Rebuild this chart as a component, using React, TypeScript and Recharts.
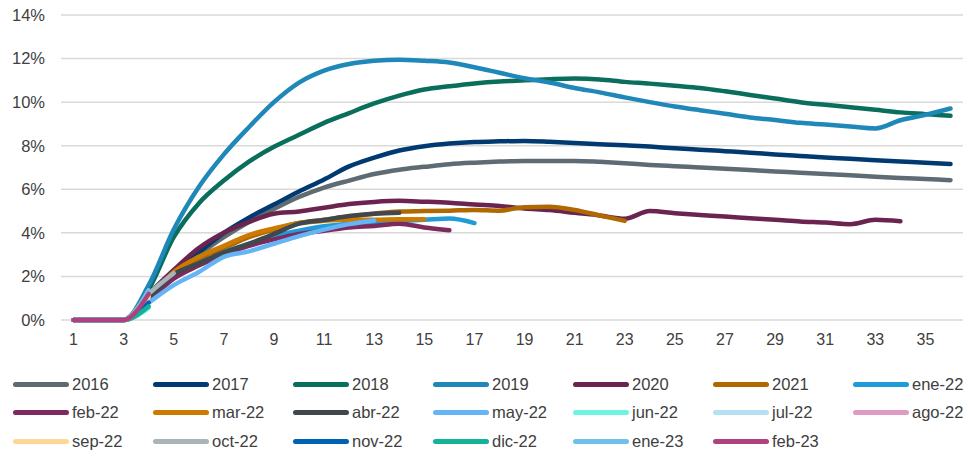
import { LineChart, Line, XAxis, YAxis, CartesianGrid } from "recharts";

const months = [
  1, 2, 3, 4, 5, 6, 7, 8, 9, 10, 11, 12, 13, 14, 15, 16, 17, 18, 19, 20, 21,
  22, 23, 24, 25, 26, 27, 28, 29, 30, 31, 32, 33, 34, 35, 36,
];
const yTicks = [0, 2, 4, 6, 8, 10, 12, 14];

const s2016 = [0, 0, 0, 1.1, 2.2, 3.0, 3.8, 4.5, 5.1, 5.65, 6.08, 6.4, 6.7, 6.9, 7.03, 7.15, 7.22, 7.27, 7.3, 7.3, 7.3, 7.26, 7.2, 7.12, 7.06, 7.0, 6.94, 6.88, 6.82, 6.76, 6.7, 6.64, 6.58, 6.52, 6.47, 6.42];
const s2017 = [0, 0, 0, 1.0, 2.2, 3.1, 4.0, 4.7, 5.3, 5.9, 6.45, 7.05, 7.45, 7.78, 7.98, 8.1, 8.17, 8.2, 8.22, 8.18, 8.12, 8.07, 8.02, 7.96, 7.88, 7.82, 7.75, 7.68, 7.6, 7.53, 7.46, 7.4, 7.33, 7.27, 7.22, 7.16];
const s2018 = [0, 0, 0, 1.4, 3.8, 5.35, 6.4, 7.27, 7.95, 8.5, 9.05, 9.5, 9.94, 10.3, 10.58, 10.73, 10.86, 10.95, 11.0, 11.05, 11.08, 11.04, 10.93, 10.85, 10.75, 10.65, 10.5, 10.33, 10.17, 10.0, 9.88, 9.77, 9.65, 9.53, 9.45, 9.37];
const s2019 = [0, 0, 0, 1.6, 4.15, 6.1, 7.6, 8.85, 10.0, 10.9, 11.45, 11.75, 11.9, 11.95, 11.9, 11.82, 11.6, 11.35, 11.1, 10.9, 10.65, 10.45, 10.22, 10.0, 9.8, 9.63, 9.47, 9.3, 9.18, 9.05, 8.97, 8.88, 8.79, 9.17, 9.42, 9.71];
const s2020 = [0, 0, 0, 1.2, 2.3, 3.3, 4.0, 4.5, 4.88, 4.98, 5.15, 5.32, 5.42, 5.47, 5.43, 5.38, 5.3, 5.23, 5.12, 5.05, 4.92, 4.8, 4.65, 5.0, 4.9, 4.82, 4.75, 4.67, 4.6, 4.52, 4.47, 4.4, 4.6, 4.53];
const s2021 = [0, 0, 0, 1.0, 2.0, 2.8, 3.3, 3.8, 4.15, 4.45, 4.6, 4.75, 4.88, 4.98, 5.0, 5.02, 5.05, 5.02, 5.18, 5.2, 5.05, 4.8, 4.55];
const ene22 = [0, 0, 0, 1.2, 2.1, 2.6, 3.1, 3.5, 3.85, 4.1, 4.3, 4.42, 4.5, 4.55, 4.6, 4.66, 4.45];
const feb22 = [0, 0, 0, 0.9, 1.9, 2.5, 3.0, 3.4, 3.7, 3.95, 4.1, 4.25, 4.32, 4.42, 4.25, 4.12];
const mar22 = [0, 0, 0, 1.0, 2.2, 2.9, 3.4, 3.9, 4.2, 4.45, 4.55, 4.6, 4.6, 4.62, 4.62];
const abr22 = [0, 0, 0, 1.0, 2.1, 2.6, 3.1, 3.5, 3.95, 4.42, 4.59, 4.77, 4.88, 4.92];
const may22 = [0, 0, 0, 0.8, 1.6, 2.2, 2.9, 3.15, 3.5, 3.85, 4.15, 4.4, 4.57];
const jun22 = [0, 0, 0, 0.55];
const jul22 = [0, 0, 0, 1.35];
const ago22 = [0, 0, 0, 1.15];
const sep22 = [0, 0, 0, 1.05];
const oct22 = [0, 0, 0, 1.2, 2.15];
const nov22 = [0, 0, 0, 0.8];
const dic22 = [0, 0, 0, 0.62];
const ene23 = [0, 0, 0, 1.35];
const feb23 = [0, 0, 0, 1.2];

const SERIES = [
  { key: "s2016", name: "2016", color: "#5f6b73", values: s2016 },
  { key: "s2017", name: "2017", color: "#003a70", values: s2017 },
  { key: "s2018", name: "2018", color: "#0a6e5c", values: s2018 },
  { key: "s2019", name: "2019", color: "#1f88b9", values: s2019 },
  { key: "s2020", name: "2020", color: "#6b2350", values: s2020 },
  { key: "s2021", name: "2021", color: "#b06800", values: s2021 },
  { key: "ene22", name: "ene-22", color: "#1f9bd7", values: ene22 },
  { key: "feb22", name: "feb-22", color: "#7d2a5e", values: feb22 },
  { key: "mar22", name: "mar-22", color: "#cc7a00", values: mar22 },
  { key: "abr22", name: "abr-22", color: "#40484e", values: abr22 },
  { key: "may22", name: "may-22", color: "#65b4f5", values: may22 },
  { key: "jun22", name: "jun-22", color: "#6ef5e1", values: jun22 },
  { key: "jul22", name: "jul-22", color: "#b5e0f3", values: jul22 },
  { key: "ago22", name: "ago-22", color: "#e09ac4", values: ago22 },
  { key: "sep22", name: "sep-22", color: "#ffd696", values: sep22 },
  { key: "oct22", name: "oct-22", color: "#aab3b8", values: oct22 },
  { key: "nov22", name: "nov-22", color: "#0062b3", values: nov22 },
  { key: "dic22", name: "dic-22", color: "#13b39a", values: dic22 },
  { key: "ene23", name: "ene-23", color: "#6ec2ea", values: ene23 },
  { key: "feb23", name: "feb-23", color: "#b0417f", values: feb23 },
];

const data = months.map((m, i) => {
  const row: Record<string, number | undefined> = { n: m };
  SERIES.forEach((s) => {
    row[s.key] = s.values[i];
  });
  return row;
});

const FONT = "'Liberation Sans', Arial, sans-serif";
const TEXT = "#404040";

function LegendBlock() {
  return (
    <div
      style={{
        position: "absolute",
        left: 13,
        top: 370,
        display: "grid",
        gridTemplateColumns: "repeat(7, 140px)",
      }}
    >
      {SERIES.map((s) => (
        <div
          key={s.key}
          style={{ display: "flex", alignItems: "center", height: 28.5 }}
        >
          <div
            style={{
              width: 56,
              height: 5,
              borderRadius: 3,
              background: s.color,
              marginRight: 3,
            }}
          />
          <span style={{ fontSize: 16.5, color: TEXT, fontFamily: FONT }}>
            {s.name}
          </span>
        </div>
      ))}
    </div>
  );
}

export default function App() {
  return (
    <div
      style={{
        position: "absolute",
        left: 0,
        top: 0,
        width: 968,
        height: 457,
        background: "#fff",
        fontFamily: FONT,
      }}
    >
      <LineChart
        width={968}
        height={352}
        data={data}
        margin={{ top: 15, right: 5, left: 11, bottom: 2 }}
      >
        <CartesianGrid vertical={false} stroke="#d9d9d9" strokeWidth={1.5} />
        <XAxis
          dataKey="n"
          interval={1}
          height={30}
          padding={{ left: 12.5, right: 12.5 }}
          axisLine={false}
          tickLine={false}
          tickMargin={8}
          tick={{ fill: TEXT, fontSize: 16, fontFamily: FONT }}
        />
        <YAxis
          width={50}
          domain={[0, 14]}
          ticks={yTicks}
          axisLine={false}
          tickLine={false}
          tickMargin={10}
          tickFormatter={(v) => `${v}%`}
          tick={{ fill: TEXT, fontSize: 16.5, fontFamily: FONT }}
        />
        {SERIES.map((s) => (
          <Line
            key={s.key}
            dataKey={s.key}
            name={s.name}
            type="monotone"
            stroke={s.color}
            strokeWidth={4.5}
            strokeLinecap="round"
            strokeLinejoin="round"
            dot={false}
            isAnimationActive={false}
          />
        ))}
      </LineChart>
      <LegendBlock />
    </div>
  );
}
